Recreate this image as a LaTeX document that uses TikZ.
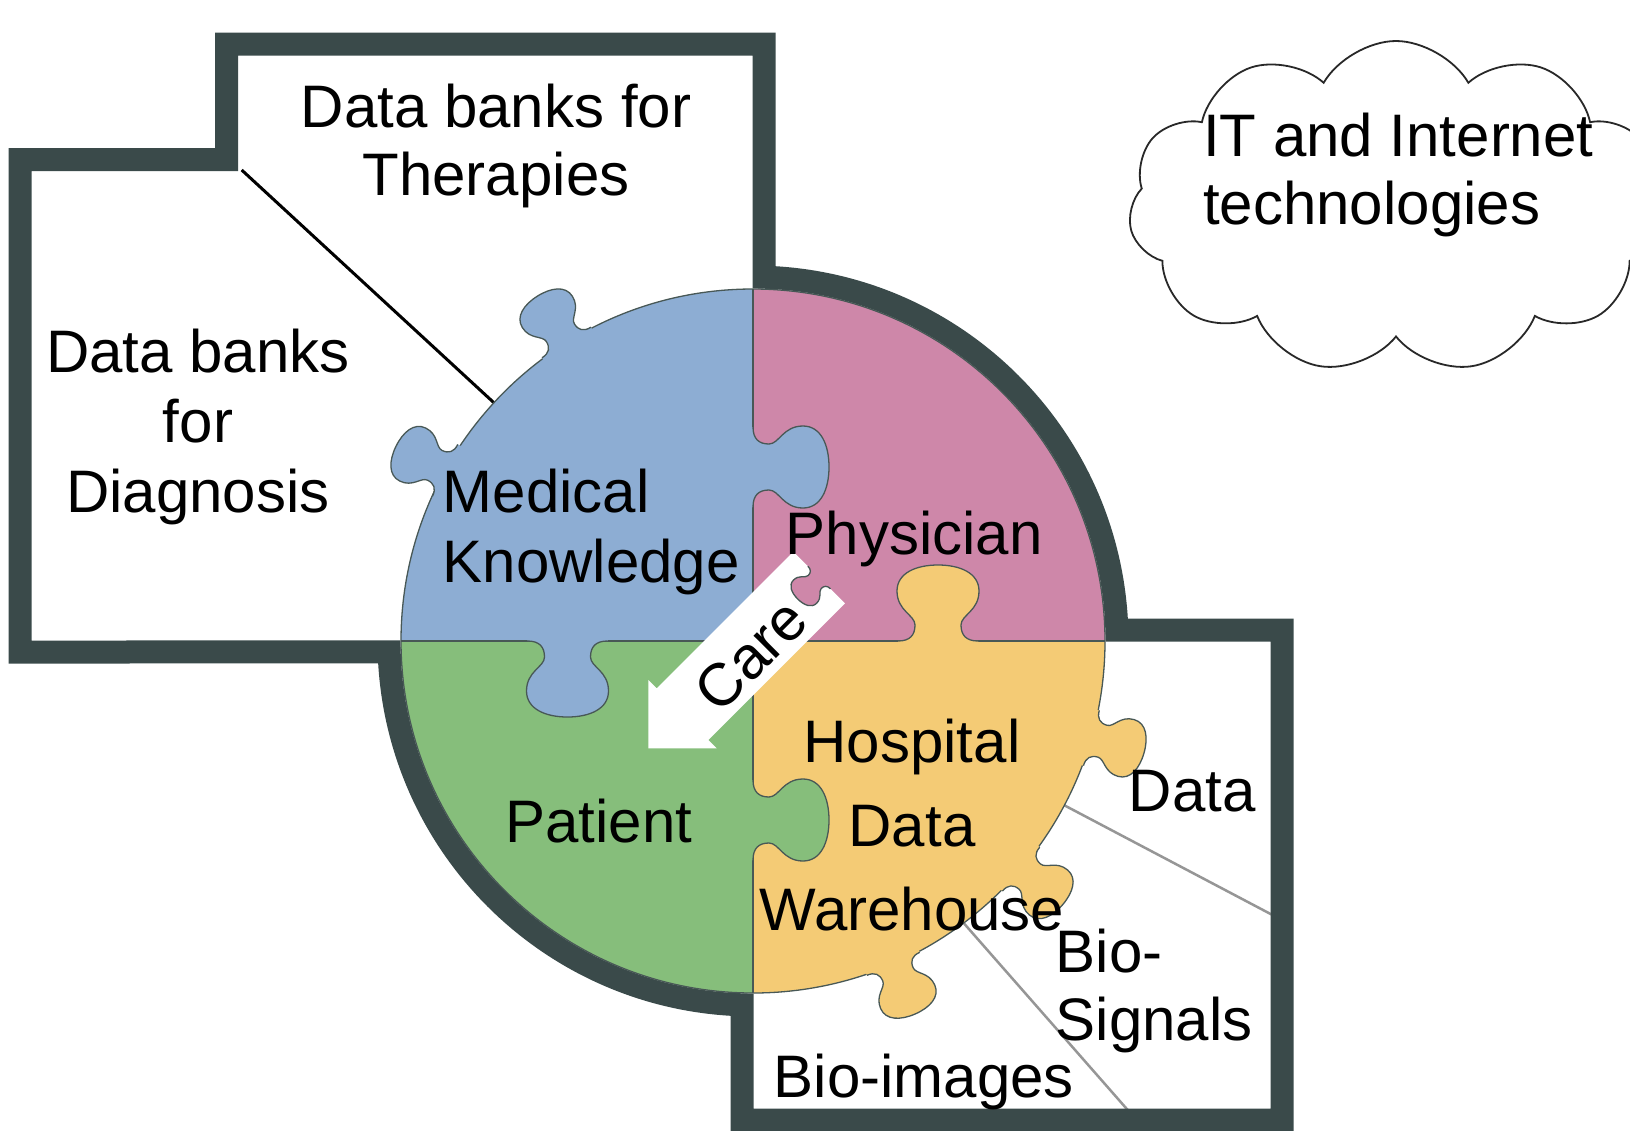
\documentclass[tikz,border=0pt]{standalone}
\usepackage{fontspec}
\setmainfont{Liberation Sans}
\usetikzlibrary{calc,shapes.symbols}

\definecolor{framec}{RGB}{58,74,74}
\definecolor{seamc}{RGB}{72,88,86}
\definecolor{bluepc}{RGB}{141,173,211}
\definecolor{pinkpc}{RGB}{206,135,169}
\definecolor{greenpc}{RGB}{134,190,123}
\definecolor{yellowpc}{RGB}{244,203,117}
\definecolor{splitc}{RGB}{150,150,150}
\definecolor{cloudc}{RGB}{40,40,40}

\tikzset{
  seam/.style={draw=seamc, line width=1.3pt},
  lbl/.style={font=\fontsize{60}{#1}\selectfont, inner sep=0pt, text=black},
  lbl/.default=68,
}

% jigsaw tab: #1 base point, #2 direction (degrees, y downwards), #3 scale, #4 fill
\newcommand{\jtab}[4]{%
  \begin{scope}[shift={#1}, rotate={90-(#2)}, scale=#3]
    \fill[#4] (-40,-5) -- (-40,0) .. controls (-28,0) and (-23,6) .. (-23,16)
      .. controls (-23,26) and (-41,30) .. (-41,50)
      .. controls (-41,68) and (-22,76) .. (0,76)
      .. controls (22,76) and (41,68) .. (41,50)
      .. controls (41,30) and (23,26) .. (23,16)
      .. controls (23,6) and (28,0) .. (40,0) -- (40,-5) -- cycle;
    \draw[seam] (-40,0) .. controls (-28,0) and (-23,6) .. (-23,16)
      .. controls (-23,26) and (-41,30) .. (-41,50)
      .. controls (-41,68) and (-22,76) .. (0,76)
      .. controls (22,76) and (41,68) .. (41,50)
      .. controls (41,30) and (23,26) .. (23,16)
      .. controls (23,6) and (28,0) .. (40,0);
  \end{scope}}

\begin{document}
\begin{tikzpicture}[x=1pt, y=-1pt, line join=miter]
\fill[white] (0,0) rectangle (1630,1130);
\useasboundingbox (0,0) rectangle (1630,1130);

\coordinate (C) at (753,641);

% separators between the data banks
\coordinate (tsplit) at (241.7,170);
\coordinate (trim) at ($(C)+(222.6:345)$);
\draw[black, line width=3pt] (tsplit) -- (trim);

\coordinate (s1a) at (1060,803);
\coordinate (s1b) at (1282,920);
\coordinate (s2a) at (961,920);
\coordinate (s2b) at (1136.5,1120);
\draw[splitc, line width=2.5pt] (s1a) -- (s1b);
\draw[splitc, line width=2.5pt] (s2a) -- (s2b);

% outer frame with the two ring arcs
\draw[framec, line width=23pt]
  (20,652) -- (20,159.5) -- (226.5,159.5) -- (226.5,44) -- (764,44)
  -- (764,277.2) arc[start angle=-88.27, end angle=-1.73, radius=364]
  -- (1282,630) -- (1282,1120) -- (742,1120)
  -- (742,1004.8) arc[start angle=91.73, end angle=178.27, radius=364]
  -- cycle;

% four quadrants
\begin{scope}
  \clip (C) circle[radius=352];
  \fill[bluepc]   (C) rectangle ++(-360,-360);
  \fill[pinkpc]   (C) rectangle ++(360,-360);
  \fill[greenpc]  (C) rectangle ++(-360,360);
  \fill[yellowpc] (C) rectangle ++(360,360);
\end{scope}
\draw[seam] (C) circle[radius=352];
\draw[seam] ($(C)+(0,-352)$) -- ($(C)+(0,352)$);
\draw[seam] ($(C)+(-352,0)$) -- ($(C)+(352,0)$);

% tabs between the pieces
\jtab{(567.5,641)}{90}{1}{bluepc}
\jtab{(753,467)}{0}{1}{bluepc}
\jtab{(938,641)}{270}{1}{yellowpc}
\jtab{(753,820)}{0}{1}{greenpc}

% outer knobs
\jtab{($(C)+(238:352)$)}{238}{0.72}{bluepc}
\jtab{($(C)+(209:352)$)}{206}{0.72}{bluepc}
\jtab{($(C)+(16:352)$)}{16}{0.72}{yellowpc}
\jtab{($(C)+(40.4:352)$)}{40.4}{0.72}{yellowpc}
\jtab{($(C)+(66.5:352)$)}{66.5}{0.72}{yellowpc}

% care arrow
\begin{scope}[shift={(819.2,577.5)}, rotate=-135]
  \fill[white] (0,-36.5) -- (193.3,-36.5) -- (193.3,-48.3) -- (241.6,0)
    -- (193.3,48.3) -- (193.3,36.5) -- (0,36.5) -- cycle;
\end{scope}
\jtab{(819.2,577.5)}{135}{0.4}{pinkpc}
\node[lbl, rotate=45] (care) at (751,655) {Care};

% labels
\node[lbl, align=center, anchor=north] (therapies) at (496,79.4)
  {\strut Data banks for\\\strut Therapies};
\node[lbl=70, align=center, anchor=north] (diagnosis) at (198,323)
  {\strut Data banks\\\strut for\\\strut Diagnosis};
\node[lbl=70, align=left, anchor=north west] (medical) at (442.5,463.5)
  {\strut Medical\\\strut Knowledge};
\node[lbl, anchor=base west] (physician) at (785.5,554) {Physician};
\node[lbl, anchor=base] (patient) at (599,842) {Patient};
\node[lbl=84, align=center, anchor=north] (hdw) at (912,703.2)
  {\strut Hospital\\\strut Data\\\strut Warehouse};
\node[lbl, anchor=base west] (datasrc) at (1128.5,811) {Data};
\node[lbl, align=left, anchor=north west] (biosig) at (1055.5,924.4)
  {\strut Bio-\\\strut Signals};
\node[lbl, anchor=base west] (bioimg) at (773.5,1097) {Bio-images};

% cloud, running off the right edge
\node[cloud, draw=cloudc, line width=1.8pt, cloud puffs=11, cloud puff arc=120,
      cloud ignores aspect, minimum width=535pt, minimum height=332pt,
      inner sep=0pt] (cloud) at (1396,207) {};
\node[lbl, align=left, anchor=north west] (ittext) at (1203,108.4)
  {\strut IT and Internet\\\strut technologies};
\end{tikzpicture}
\end{document}
